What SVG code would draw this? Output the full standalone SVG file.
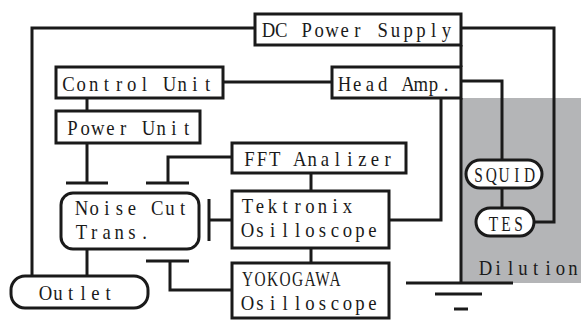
<svg xmlns="http://www.w3.org/2000/svg" width="581" height="320" viewBox="0 0 581 320">
<style>
.box{fill:#fff;stroke:#1a1a1a;stroke-width:3}
.ln{fill:none;stroke:#1a1a1a;stroke-width:3}
text{font-family:"Liberation Serif","DejaVu Serif",serif;font-size:22px;fill:#1a1a1a;text-anchor:middle}
</style>
<rect x="462" y="98" width="119" height="185" fill="#b4b5b7"/>
<g id="connectors" class="ln">
<path d="M255,28 H32 V276"/>
<path d="M461,28 H554 V222 H534"/>
<path d="M461,45 V67"/>
<path d="M461,98 V283"/>
<path d="M223,82 H332"/>
<path d="M87,98 V111"/>
<path d="M87,143 V183 M66,183 H108"/>
<path d="M232,157 H168 V183 M146,183 H189"/>
<path d="M311,173 V191"/>
<path d="M232,220 H209 M209,199 V241"/>
<path d="M311,248 V263"/>
<path d="M232,290 H170 V261 M146,261 H189"/>
<path d="M87,249 V276"/>
<path d="M441,98 V220 H389"/>
<path d="M461,81 H502 V160"/>
<path d="M502,188 V208"/>
<path d="M406,283 H513 M435,294 H482 M454,309 H468"/>
</g>
<g id="dc"><rect class="box" x="255" y="14" width="206" height="31"/><text transform="scale(0.85,1)" y="37" x="315.88 330.82 345.76 360.71 375.65 390.59 405.53 420.47 435.41 450.35 465.29 480.24 495.18 510.12 525.06">DC Power Supply</text></g>
<g id="control"><rect class="box" x="56" y="67" width="167" height="31"/><text transform="scale(0.85,1)" y="91" x="80.59 95.46 110.33 125.2 140.07 154.94 169.81 184.68 199.55 214.42 229.29 244.16">Control Unit</text></g>
<g id="power"><rect class="box" x="56" y="111" width="144" height="32"/><text transform="scale(0.85,1)" y="135" x="85.29 100.2 115.11 130.01 144.92 159.82 174.73 189.64 204.54 219.45">Power Unit</text></g>
<g id="headamp"><rect class="box" x="332" y="67" width="129" height="31"/><text transform="scale(0.85,1)" y="91" x="405.29 420.23 435.17 450.12 465.06 480 494.94 509.88 524.82">Head Amp.</text></g>
<g id="fft"><rect class="box" x="232" y="143" width="174" height="30"/><text transform="scale(0.85,1)" y="166" x="293.53 308.29 323.06 337.82 352.59 367.35 382.12 396.88 411.65 426.41 441.18 455.94">FFT Analizer</text></g>
<g id="tek"><rect class="box" x="232" y="191" width="157" height="57"/><text transform="scale(0.85,1)" y="213" x="291.18 305.88 320.59 335.29 350 364.71 379.41 394.12 408.82">Tektronix</text><text transform="scale(0.85,1)" y="237" x="291.18 305.88 320.59 335.29 350 364.71 379.41 394.12 408.82 423.53 438.24">Osilloscope</text></g>
<g id="yoko"><rect class="box" x="232" y="263" width="157" height="55"/><text transform="scale(0.7,1)" y="286" x="353.57 371.43 389.29 407.14 425 442.86 460.71 478.57">YOKOGAWA</text><text transform="scale(0.85,1)" y="310" x="291.18 305.88 320.59 335.29 350 364.71 379.41 394.12 408.82 423.53 438.24">Osilloscope</text></g>
<g id="noisecut"><rect class="box" x="61" y="193" width="138" height="56" rx="12"/><text transform="scale(0.85,1)" y="215" x="95.88 110.74 125.59 140.44 155.29 170.15 185 199.85 214.71">Noise Cut</text><text transform="scale(0.85,1)" y="239" x="95.88 110.71 125.53 140.35 155.18 170">Trans.</text></g>
<g id="outlet"><rect class="box" x="11" y="276" width="137" height="32" rx="14"/><text transform="scale(0.85,1)" y="300" x="53.53 68.24 82.94 97.65 112.35 127.06">Outlet</text></g>
<g id="squid"><rect class="box" x="466" y="160" width="76" height="28" rx="14"/><text transform="scale(0.7,1)" y="182" x="683.57 701.79 720 738.21 756.43">SQUID</text></g>
<g id="tes"><rect class="box" x="476" y="208" width="58" height="28" rx="14"/><text transform="scale(0.7,1)" y="231" x="705 722.86 740.71">TES</text></g>
<g id="dilution"><text transform="scale(0.85,1)" y="275" x="571.18 585.88 600.59 615.29 630 644.71 659.41 674.12">Dilution</text></g>
</svg>
